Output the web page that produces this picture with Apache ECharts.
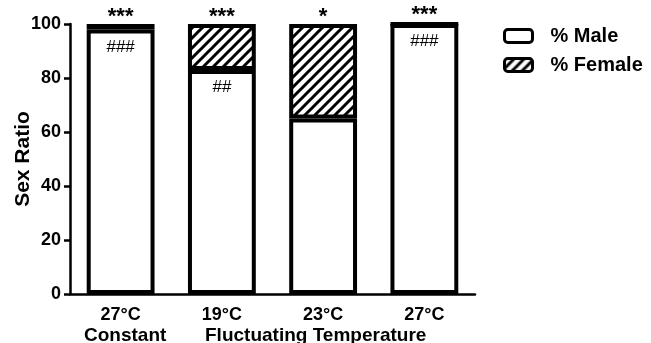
<!DOCTYPE html>
<html><head><meta charset="utf-8">
<script src="https://cdn.jsdelivr.net/npm/echarts@6/dist/echarts.min.js"></script>
<style>html,body{margin:0;padding:0;background:#fff}#c{width:651px;height:343px}</style>
</head><body><div id="c"></div>
<script>
const categories = ['27°C', '19°C', '23°C', '27°C'];
const male = [98, 83, 65, 100];
const female = [2, 17, 35, 0];
const starLabels = ['***', '***', '*', '***'];
const hashLabels = ['###', '##', '', '###'];
const yTicks = [0, 20, 40, 60, 80, 100];
const groupLabels = ['Constant', 'Fluctuating Temperature'];

function hatch() {
  const s = 10;
  const c = document.createElement('canvas');
  c.width = s; c.height = s;
  const g = c.getContext('2d');
  g.fillStyle = '#fff'; g.fillRect(0, 0, s, s);
  g.strokeStyle = '#000'; g.lineWidth = 3;
  g.beginPath();
  g.moveTo(-1, s + 1); g.lineTo(s + 1, -1);
  g.moveTo(-1, 1); g.lineTo(1, -1);
  g.moveTo(s - 1, s + 1); g.lineTo(s + 1, s - 1);
  g.stroke();
  return c;
}
const pat = { image: hatch(), repeat: 'repeat' };
const FONT = 'Liberation Sans, Arial, sans-serif';

const chart = echarts.init(document.getElementById('c'));
chart.setOption({
  animation: false,
  backgroundColor: '#fff',
  grid: { left: 70, right: 176, top: 24, bottom: 49, containLabel: false, outerBoundsMode: 'none' },
  legend: {
    orient: 'vertical', left: 498, top: 21, itemWidth: 28, itemHeight: 13, itemGap: 9,
    textStyle: { fontFamily: FONT, fontWeight: 'bold', fontSize: 20, color: '#000', padding: [0, 0, 0, 13] },
    data: [
      { name: '% Male', itemStyle: { color: '#fff', borderColor: '#000', borderWidth: 3 } },
      { name: '% Female', itemStyle: { color: pat, borderColor: '#000', borderWidth: 3 } }
    ]
  },
  xAxis: {
    type: 'category', data: categories,
    axisLine: { lineStyle: { color: '#000', width: 2.5 } },
    axisTick: { alignWithLabel: true, length: 6, lineStyle: { width: 2.5, color: '#000' } },
    axisLabel: { fontFamily: FONT, fontWeight: 'bold', fontSize: 18, color: '#000', margin: 12 }
  },
  yAxis: {
    type: 'value', min: 0, max: 100, interval: 20,
    name: 'Sex Ratio', nameLocation: 'middle', nameGap: 36, nameMoveOverlap: false,
    nameTextStyle: { fontFamily: FONT, fontWeight: 'bold', fontSize: 21, color: '#000' },
    axisLine: { show: true, lineStyle: { color: '#000', width: 2.5 } },
    axisTick: { show: true, length: 6, lineStyle: { width: 2.5, color: '#000' } },
    splitLine: { show: false },
    axisLabel: { fontFamily: FONT, fontWeight: 'bold', fontSize: 18, color: '#000', margin: 9,
      formatter: v => yTicks.includes(v) ? String(v) : '' }
  },
  series: [
    {
      name: '% Male', type: 'bar', stack: 's', barWidth: '67%', data: male,
      itemStyle: { color: '#fff', borderColor: '#000', borderWidth: 4 },
      label: { show: true, position: 'insideTop', distance: 9,
        formatter: p => hashLabels[p.dataIndex], fontFamily: FONT, fontSize: 17, color: '#000' }
    },
    {
      name: '% Female', type: 'bar', stack: 's', barWidth: '67%', data: female,
      itemStyle: { color: pat, borderColor: '#000', borderWidth: 4 },
      label: { show: true, position: 'top', distance: 0, offset: [0, 4],
        formatter: p => starLabels[p.dataIndex], fontFamily: FONT, fontWeight: 'bold', fontSize: 22, color: '#000' }
    }
  ],
  graphic: [
    { type: 'text', left: 84, top: 326, style: { text: groupLabels[0], font: 'bold 19px ' + FONT, fill: '#000' } },
    { type: 'text', left: 205, top: 326, style: { text: groupLabels[1], font: 'bold 19px ' + FONT, fill: '#000' } }
  ]
});
</script></body></html>
